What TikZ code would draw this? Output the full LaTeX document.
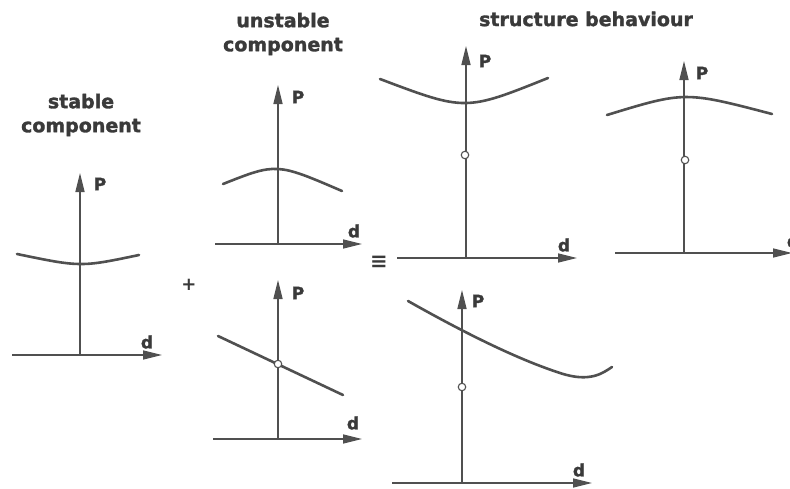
\documentclass[tikz,border=0pt]{standalone}
\usepackage{fontspec}
\newfontfamily\diafont[FakeBold=1.6]{DejaVu Sans Bold}
\newfontfamily\symfont{DejaVu Sans}
\usetikzlibrary{arrows.meta}
\definecolor{ink}{HTML}{505050}
\definecolor{txt}{HTML}{3A3A3A}
\begin{document}
\begin{tikzpicture}[x=1pt,y=-1pt,
  axisline/.style={draw=ink,line width=1.5pt,-{Triangle[length=19pt,width=9pt]}},
  curveline/.style={draw=ink,line width=2.6pt,line cap=round},
  eqpoint/.style={circle,draw=ink,fill=white,line width=1.1pt,inner sep=0pt,minimum size=7.5pt},
  axlabel/.style={font=\diafont\fontsize{17}{17}\selectfont,text=txt,inner sep=0pt},
  title/.style={font=\diafont\fontsize{19}{24}\selectfont,text=txt,align=center,inner sep=0pt},
  opsign/.style={font=\symfont\bfseries\fontsize{18}{18}\selectfont,text=txt,inner sep=0pt}]
\path[use as bounding box] (0,0) rectangle (790,488);
\fill[white] (0,0) rectangle (790,488);

% titles
\node[title] (t1) at (81,115) {stable\\component};
\node[title] (t2) at (283,34) {unstable\\component};
\node[title] (t3) at (586,19) {structure behaviour};

% operators
\node[opsign] (plus) at (189,285) {+};
\node[opsign,font=\symfont\bfseries\fontsize{21}{21}\selectfont] (equiv) at (379,262) {≡};

% ---- panel 1: stable component
\coordinate (o1) at (80,355);
\coordinate (x1s) at (12,355);
\coordinate (x1) at (162,355);
\coordinate (y1) at (80,173);
\draw[curveline] (17,254) .. controls (80.7,267.2) .. (139,255);
\draw[axisline] (x1s) -- (x1);
\draw[axisline] (o1) -- (y1);
\node[axlabel] (p1) at (100,184) {P};
\node[axlabel] (d1) at (147,342) {d};

% ---- panel 2: unstable component (top)
\coordinate (o2) at (278,244);
\coordinate (x2s) at (215,244);
\coordinate (x2) at (362,244);
\coordinate (y2) at (278,85);
\draw[curveline] (223,184) .. controls (276.5,162.8) .. (342,191);
\draw[axisline] (x2s) -- (x2);
\draw[axisline] (o2) -- (y2);
\node[axlabel] (p2) at (298,97) {P};
\node[axlabel] (d2) at (354,231) {d};

% ---- panel 3: unstable component (bottom)
\coordinate (o3) at (278,439);
\coordinate (x3s) at (213,439);
\coordinate (x3) at (362,439);
\coordinate (y3) at (278,280);
\coordinate (l3a) at (218,336);
\coordinate (l3b) at (343,395);
\draw[curveline] (l3a) -- (l3b);
\draw[axisline] (x3s) -- (x3);
\draw[axisline] (o3) -- (y3);
\node[eqpoint] (c3) at (278,364) {};
\node[axlabel] (p3) at (298,293) {P};
\node[axlabel] (d3) at (353,423) {d};

% ---- panel 4: structure (top left)
\coordinate (o4) at (466,258);
\coordinate (x4s) at (397,258);
\coordinate (x4) at (577,258);
\coordinate (y4) at (466,46);
\draw[curveline] (380,79) .. controls (465.3,111.2) .. (548,78);
\draw[axisline] (x4s) -- (x4);
\draw[axisline] (o4) -- (y4);
\node[eqpoint] (c4) at (465,155) {};
\node[axlabel] (p4) at (485,61) {P};
\node[axlabel] (d4) at (564,245) {d};

% ---- panel 5: structure (top right)
\coordinate (o5) at (684,253);
\coordinate (x5s) at (615,253);
\coordinate (x5) at (792,253);
\coordinate (y5) at (684,61);
\draw[curveline] (607,115) .. controls (684.8,91.2) .. (772,114);
\draw[axisline] (x5s) -- (x5);
\draw[axisline] (o5) -- (y5);
\node[eqpoint] (c5) at (685,160) {};
\node[axlabel] (p5) at (702,73) {P};
\node[axlabel] (d5) at (793,241) {d};

% ---- panel 6: structure (bottom)
\coordinate (o6) at (462,483);
\coordinate (x6s) at (392,483);
\coordinate (x6) at (592,483);
\coordinate (y6) at (462,290);
\draw[curveline] (408,301) .. controls (470,336) and (520,360) .. (560,373)
  .. controls (590,383) and (603,373) .. (612,367);
\draw[axisline] (x6s) -- (x6);
\draw[axisline] (o6) -- (y6);
\node[eqpoint] (c6) at (462,387) {};
\node[axlabel] (p6) at (478,301) {P};
\node[axlabel] (d6) at (579,470) {d};
\end{tikzpicture}
\end{document}
